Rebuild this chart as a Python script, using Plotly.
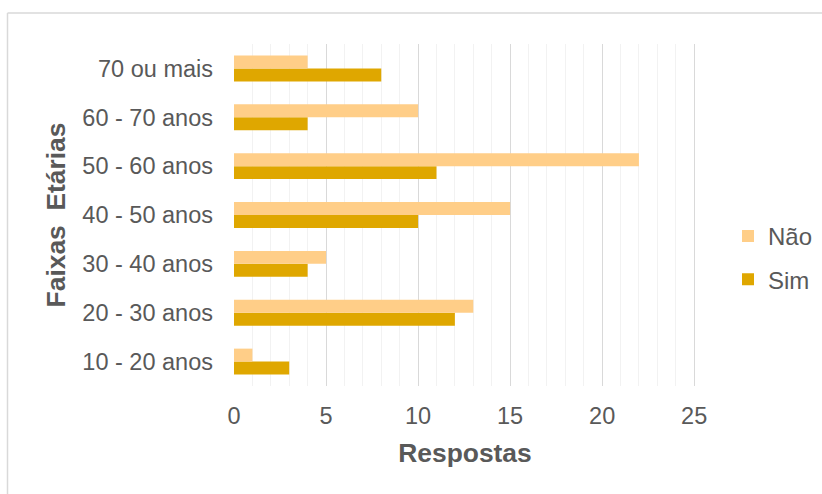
import plotly.graph_objects as go

categories = ["10 - 20 anos", "20 - 30 anos", "30 - 40 anos", "40 - 50 anos",
              "50 - 60 anos", "60 - 70 anos", "70 ou mais"]
nao = [1, 13, 5, 15, 22, 10, 4]
sim = [3, 12, 4, 10, 11, 4, 8]
x_max = 25
x_step = 5

W, H = 822, 494
L, R = 234, 696
T, B = 43.5, 386.5

fig = go.Figure()
fig.add_trace(go.Bar(y=categories, x=sim, name="Sim", orientation="h", legendgroup="sim",
                     legendrank=2, marker=dict(color="#DFA700", line=dict(width=0))))
fig.add_trace(go.Bar(y=categories, x=nao, name="Não", orientation="h", legendgroup="nao",
                     legendrank=1, marker=dict(color="#FFCE88", line=dict(width=0))))

font = "Liberation Sans, Arial, sans-serif"
fig.update_layout(
    width=W, height=H,
    margin=dict(l=L, r=W - R, t=T, b=H - B, pad=0, autoexpand=False),
    paper_bgcolor="white", plot_bgcolor="white",
    barmode="group", bargap=0.47, bargroupgap=0,
    font=dict(family=font, size=23.5, color="#595959"),
    showlegend=True,
    legend=dict(x=(728 - L) / (R - L), y=(B - 258) / (B - T), xanchor="left", yanchor="middle",
                traceorder="grouped", font=dict(size=24, color="#595959"),
                itemsizing="constant", itemwidth=30, tracegroupgap=9,
                bgcolor="rgba(0,0,0,0)"),
    xaxis=dict(range=[0, x_max + 0.1], tickmode="linear", tick0=0, dtick=x_step,
               showgrid=True, gridcolor="#D9D9D9", gridwidth=1.3,
               zeroline=False, showline=False,
               minor=dict(dtick=1, showgrid=True, gridcolor="#F2F2F2", gridwidth=1.3),
               tickfont=dict(size=23.5, color="#595959"),
               ticks="", ticklabelstandoff=13,
               title=dict(text="<b>Respostas</b>", font=dict(size=26.4, color="#595959"),
                          standoff=16)),
    yaxis=dict(categoryorder="array", categoryarray=categories,
               showgrid=False, zeroline=False, showline=False, ticks="",
               tickfont=dict(size=23.5, color="#595959"), ticklabelstandoff=20,
               title=dict(text="<b>Faixas  Etárias</b>", font=dict(size=26.4, color="#595959"),
                          standoff=9)),
)

# outer chart border (left and top visible)
def px_to_paper_x(px):
    return (px - L) / (R - L)

def py_to_paper_y(py):
    return (B - py) / (B - T)

fig.add_shape(type="line", xref="paper", yref="paper",
              x0=px_to_paper_x(7.5), x1=px_to_paper_x(830),
              y0=py_to_paper_y(12.5), y1=py_to_paper_y(12.5),
              line=dict(color="#D9D9D9", width=1.5))
fig.add_shape(type="line", xref="paper", yref="paper",
              x0=px_to_paper_x(7.5), x1=px_to_paper_x(7.5),
              y0=py_to_paper_y(12.5), y1=py_to_paper_y(500),
              line=dict(color="#D9D9D9", width=1.5))

fig.write_html("out.html")
